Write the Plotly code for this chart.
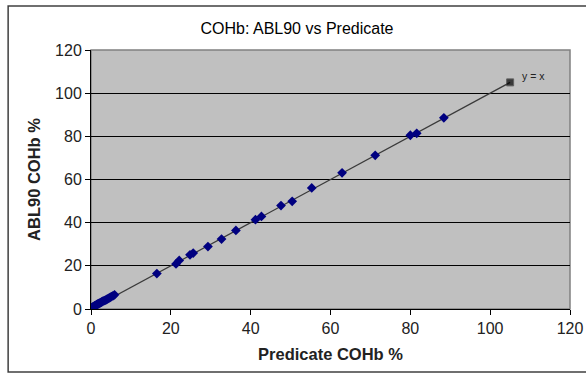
import plotly.graph_objects as go

# Predicate (x) vs ABL90 (y) COHb %
predicate = [0.1, 0.3, 0.4, 0.6, 0.8, 0.9, 1.1, 1.3, 1.5, 1.6, 1.8, 2.0, 2.2, 2.4, 2.6, 2.8,
             3.0, 3.3, 3.6, 3.9, 4.2, 4.5, 4.8, 5.1, 5.5, 5.9,
             16.5, 21.3, 22.1, 24.8, 25.6, 29.3, 32.7, 36.3, 41.2, 42.7, 47.6, 50.4, 55.3,
             62.9, 71.2, 80.0, 81.6, 88.4]
abl90 = [0.4, 0.7, 0.9, 1.0, 1.3, 1.4, 1.6, 1.9, 2.0, 2.2, 2.4, 2.6, 2.7, 3.0, 3.2, 3.4,
         3.6, 3.9, 4.1, 4.4, 4.7, 5.0, 5.4, 5.7, 6.1, 6.6,
         16.4, 20.9, 22.5, 25.1, 25.9, 28.9, 32.4, 36.4, 41.4, 42.9, 47.9, 49.9, 56.1,
         63.1, 71.2, 80.5, 81.4, 88.6]
identity_x = [0, 105]
identity_y = [0, 105]
x_ticks = [0, 20, 40, 60, 80, 100, 120]
y_ticks = [0, 20, 40, 60, 80, 100, 120]

FONT = "Liberation Sans, Arial, sans-serif"

fig = go.Figure()
fig.add_trace(go.Scatter(
    x=identity_x, y=identity_y, mode="lines+markers",
    line=dict(color="#3a3a3a", width=1.2),
    marker=dict(symbol=["square", "square"], size=[0, 7], color="black"),
    showlegend=False, hoverinfo="skip"))
fig.add_trace(go.Scatter(
    x=predicate, y=abl90, mode="markers",
    marker=dict(symbol="diamond", size=7.5, color="#000080"),
    showlegend=False))

fig.add_annotation(x=identity_x[-1], y=identity_y[-1], text="y = x", showarrow=False,
                   xanchor="left", yanchor="bottom", xshift=10, yshift=-2,
                   font=dict(family=FONT, size=10.5, color="#222"))

# outer chart border
fig.add_shape(type="rect", xref="paper", yref="paper",
              x0=-0.173, x1=1.05, y0=-0.243, y1=1.17,
              line=dict(color="#404040", width=1.5), layer="above")

fig.update_layout(
    width=586, height=374,
    margin=dict(l=91, r=16, t=50, b=65, autoexpand=False),
    paper_bgcolor="white", plot_bgcolor="#c0c0c0",
    font=dict(family=FONT, color="black"),
    title=dict(text="COHb: ABL90 vs Predicate", x=(297 - 91) / 479, xref="paper",
               xanchor="center", y=1 - 28 / 374, yanchor="middle",
               font=dict(size=16, family=FONT, color="black")),
    xaxis=dict(range=[0, 120], tickvals=x_ticks, ticks="outside", ticklen=5,
               tickcolor="black", showgrid=False, zeroline=False, automargin=False,
               showline=True, linecolor="black", linewidth=1, mirror=False,
               tickfont=dict(size=16, family=FONT, color="#222"),
               title=dict(text="<b>Predicate COHb %</b>", standoff=12,
                          font=dict(size=16.5, family=FONT, color="#222"))),
    yaxis=dict(range=[0, 120], tickvals=y_ticks, ticks="outside", ticklen=5,
               tickcolor="black", showgrid=True, gridcolor="black", gridwidth=1,
               zeroline=False, showline=True, linecolor="black", linewidth=1,
               automargin=False,
               tickfont=dict(size=16, family=FONT, color="#222"),
               title=dict(text="<b>ABL90 COHb %</b>", standoff=10,
                          font=dict(size=16.5, family=FONT, color="#222"))),
)
# gray border of plot area
fig.add_shape(type="rect", xref="paper", yref="paper", x0=0, x1=1, y0=0, y1=1,
              line=dict(color="#808080", width=1.5), layer="below")

fig.write_html("out.html", config={"displayModeBar": False},
               post_script="document.body.style.margin='0';document.body.style.overflow='hidden';")
